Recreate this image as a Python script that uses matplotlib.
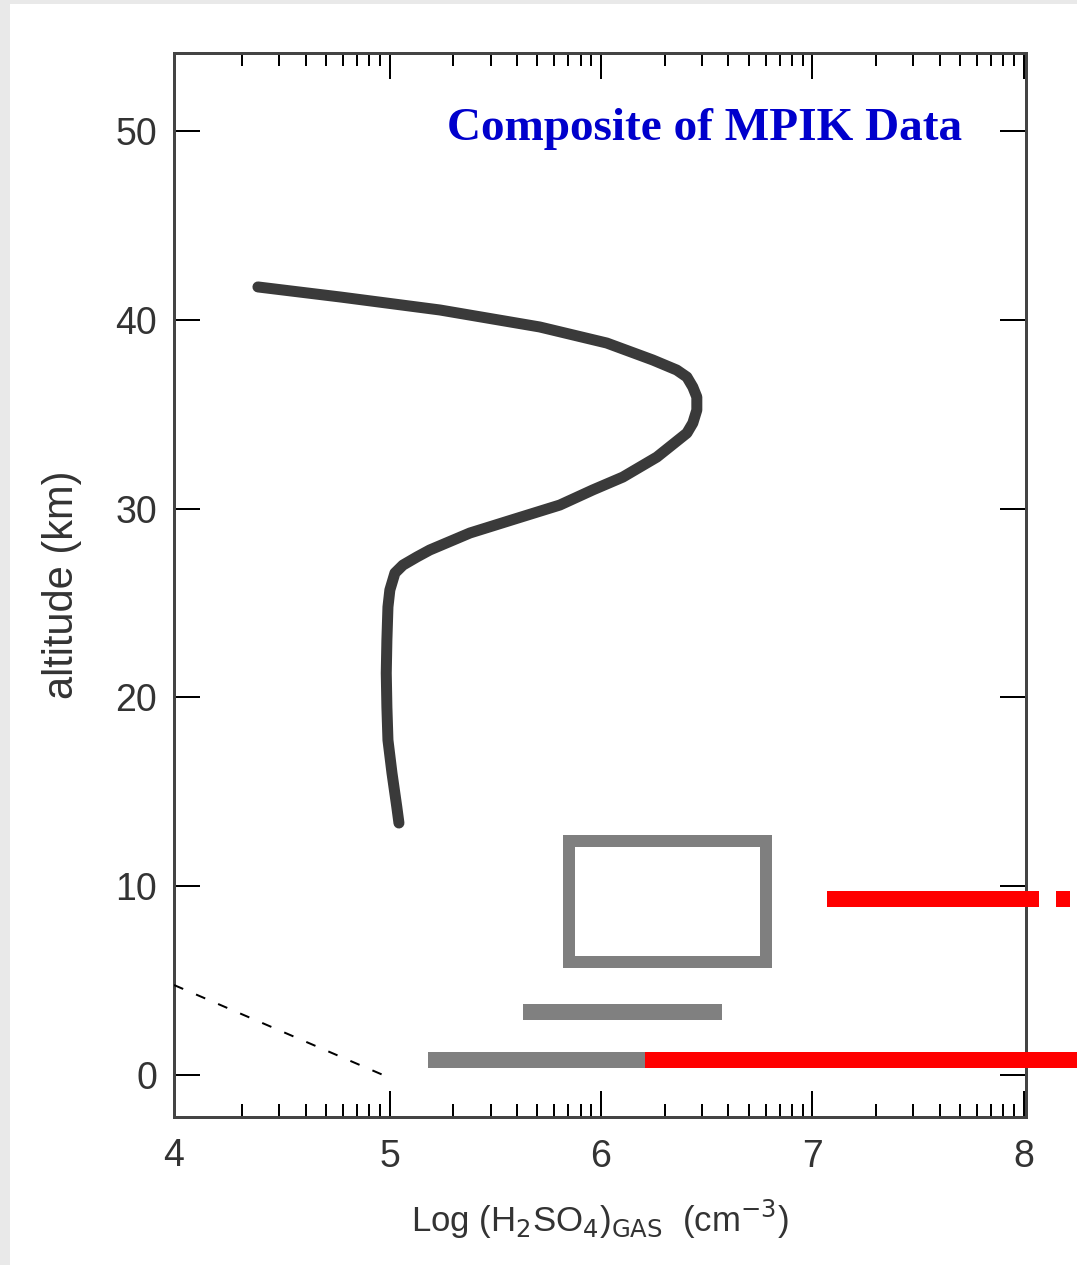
import numpy as np
import matplotlib
matplotlib.use("Agg")
import matplotlib.pyplot as plt
from matplotlib.patches import Rectangle

# --- data ---
# H2SO4 profile (log conc, altitude km)
profile_x = [4.377, 4.765, 5.238, 5.710, 6.027, 6.245, 6.358, 6.406, 6.434, 6.453,
             6.453, 6.434, 6.406, 6.264, 6.103, 5.961, 5.805, 5.592, 5.380, 5.190,
             5.129, 5.063, 5.025, 5.001, 4.992, 4.987, 4.984, 4.987, 4.992, 5.011,
             5.034, 5.044]
profile_z = [41.74, 41.21, 40.52, 39.62, 38.77, 37.87, 37.34, 36.97, 36.44, 35.91,
             35.22, 34.53, 34.00, 32.73, 31.67, 30.99, 30.19, 29.45, 28.71, 27.81,
             27.44, 27.01, 26.59, 25.69, 24.79, 23.04, 21.29, 19.49, 17.74, 16.00,
             14.19, 13.35]

# dashed line near the ground
dash_x = [3.98, 4.97]
dash_z = [4.77, 0.0]

# gray box (x range, altitude range)
box_x = [5.85, 6.78]
box_z = [5.99, 12.39]

# gray horizontal bars: (x start, x end, altitude)
gray_start = [5.63, 5.18]
gray_end = [6.57, 6.21]
gray_alt = [3.34, 0.79]

# red horizontal bars
red_start = [7.07, 8.15, 6.21]
red_end = [8.07, 8.22, 8.25]
red_alt = [9.32, 9.32, 0.79]

yticks = [0, 10, 20, 30, 40, 50]
xticks = [5, 6, 7, 8]

W, H = 1077, 1265
fig = plt.figure(figsize=(W / 100, H / 100), dpi=100, facecolor="white")
# light gray scan border on the left and top
fig.patches.append(Rectangle((0, 0), 10 / W, 1, transform=fig.transFigure,
                             facecolor="#e9e9e9", edgecolor="none", zorder=0))
fig.patches.append(Rectangle((0, 1 - 4 / H), 1, 4 / H, transform=fig.transFigure,
                             facecolor="#e9e9e9", edgecolor="none", zorder=0))

ax = fig.add_axes([174 / W, 1 - 1117 / H, (1026 - 174) / W, (1117 - 53) / H])
ax.set_xlim(3.98, 8.01)
ax.set_ylim(-2.22, 54.13)

px = 72 / 100  # points per pixel

ax.plot(profile_x, profile_z, color="#3a3a3a", lw=11 * px,
        solid_capstyle="round", solid_joinstyle="round", zorder=3)
ax.plot(dash_x, dash_z, color="black", lw=2 * px, dashes=(5, 7), zorder=3)

ax.plot([box_x[0], box_x[1], box_x[1], box_x[0], box_x[0]],
        [box_z[0], box_z[0], box_z[1], box_z[1], box_z[0]],
        color="#7f7f7f", lw=12 * px, solid_joinstyle="miter", zorder=3)

for x0, x1, z in zip(gray_start, gray_end, gray_alt):
    ax.plot([x0, x1], [z, z], color="#808080", lw=16 * px,
            solid_capstyle="butt", zorder=3)
for x0, x1, z in zip(red_start, red_end, red_alt):
    ax.plot([x0, x1], [z, z], color="#ff0000", lw=16 * px,
            solid_capstyle="butt", zorder=4, clip_on=False)

ax.text(5.27, 49.5, "Composite of MPIK Data", color="#0000cc",
        family="Liberation Serif", weight="bold", fontsize=34,
        ha="left", va="baseline")

# axes styling
for s in ax.spines.values():
    s.set_color("#444444")
    s.set_linewidth(3 * px)

minor = [d + np.log10(m) for d in range(4, 8) for m in range(2, 10)]
ax.set_xticks(xticks)
ax.set_xticks(minor, minor=True)
ax.set_yticks(yticks)
ax.tick_params(axis="x", which="major", direction="in", top=True, bottom=True,
               length=26 * px, width=2 * px, labelsize=27, pad=16,
               labelcolor="#333333")
ax.tick_params(axis="x", which="minor", direction="in", top=True, bottom=True,
               length=13 * px, width=2 * px)
ax.tick_params(axis="y", which="major", direction="in", left=True, right=True,
               length=26 * px, width=2 * px, labelsize=27, pad=12,
               labelcolor="#333333")
for lab in ax.get_xticklabels() + ax.get_yticklabels():
    lab.set_family("Liberation Sans")
# the "4" label sits at the left spine, without a tick of its own
ax.text(3.98, -0.02, "4", transform=ax.get_xaxis_transform(), ha="center",
        va="top", fontsize=27, family="Liberation Sans", color="#333333")
ax.xaxis.get_major_ticks()  # keep default ticks for 5..8

ax.set_ylabel("altitude (km)", fontsize=30, family="Liberation Sans",
              color="#333333", labelpad=24)
ax.set_xlabel(r"Log (H$_2$SO$_4$)$_{\mathrm{GAS}}$  (cm$^{-3}$)", fontsize=25,
              family="Liberation Sans", color="#333333", labelpad=16)

fig.savefig("out.png", dpi=100, facecolor="white")
